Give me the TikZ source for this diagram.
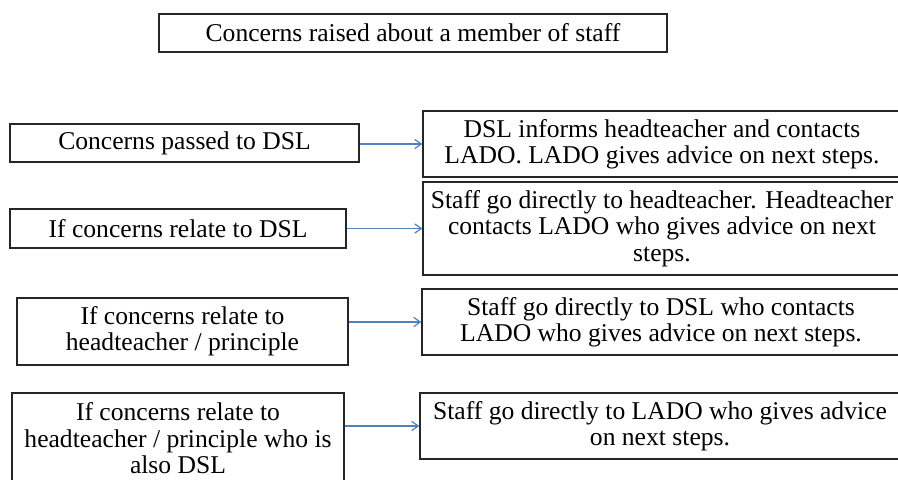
\documentclass[tikz,border=0pt]{standalone}
\usepackage{fontspec}
\setmainfont{Liberation Serif}
\newfontfamily\boxfont{Liberation Serif}
\usetikzlibrary{arrows.meta}
\definecolor{flowblue}{RGB}{79,129,189}

\begin{document}
\begin{tikzpicture}[x=0.75pt,y=0.75pt,yscale=-1,xscale=1,
    box/.style={draw=black!85, line width=1pt, inner sep=0pt, align=center,
        font=\boxfont\fontsize{19.2}{19.8}\selectfont},
    flow/.style={draw=flowblue, line width=0.9pt, -{Straight Barb[length=5pt,width=7pt]}}]
        \useasboundingbox (0,0) rectangle (898,479);

        % Top box
        \node [box, minimum width=381pt, minimum height=28.5pt] (top) at (413,33) {Concerns raised about a member of staff};

        % Left boxes
        \node [box, minimum width=261.75pt, minimum height=28.5pt] (l1) at (184.5,143) {Concerns passed to DSL};
        \node [box, minimum width=252pt, minimum height=29.25pt] (l2) at (178,228.5) {If concerns relate to DSL};
        \node [box, minimum width=248.25pt, minimum height=50.25pt] (l3) at (182.5,331.5) {If concerns relate to\\headteacher / principle};
        \node [box, minimum width=249pt, minimum height=68.25pt] (l4) at (178,438.5) {If concerns relate to\\headteacher / principle who is\\also DSL};

        % Right boxes
        \node [box, minimum width=358.5pt, minimum height=49.5pt] (r1) at (662,144) {DSL informs headteacher and contacts\\LADO. LADO gives advice on next steps.};
        \node [box, minimum width=358.5pt, minimum height=69.75pt] (r2) at (662,228.5) {Staff go directly to headteacher.  Headteacher\\contacts LADO who gives advice on next\\steps.};
        \node [box, minimum width=358.5pt, minimum height=49.5pt] (r3) at (661,322) {Staff go directly to DSL who contacts\\LADO who gives advice on next steps.};
        \node [box, minimum width=360pt, minimum height=49.5pt] (r4) at (660,426) {Staff go directly to LADO who gives advice\\on next steps.};

        % Arrows
        \draw [flow] (r1.west -| l1.east) -- (r1.west);
        \draw [flow] (r2.west -| l2.east) -- (r2.west);
        \draw [flow] (r3.west -| l3.east) -- (r3.west);
        \draw [flow] (r4.west -| l4.east) -- (r4.west);

\end{tikzpicture}
\end{document}
